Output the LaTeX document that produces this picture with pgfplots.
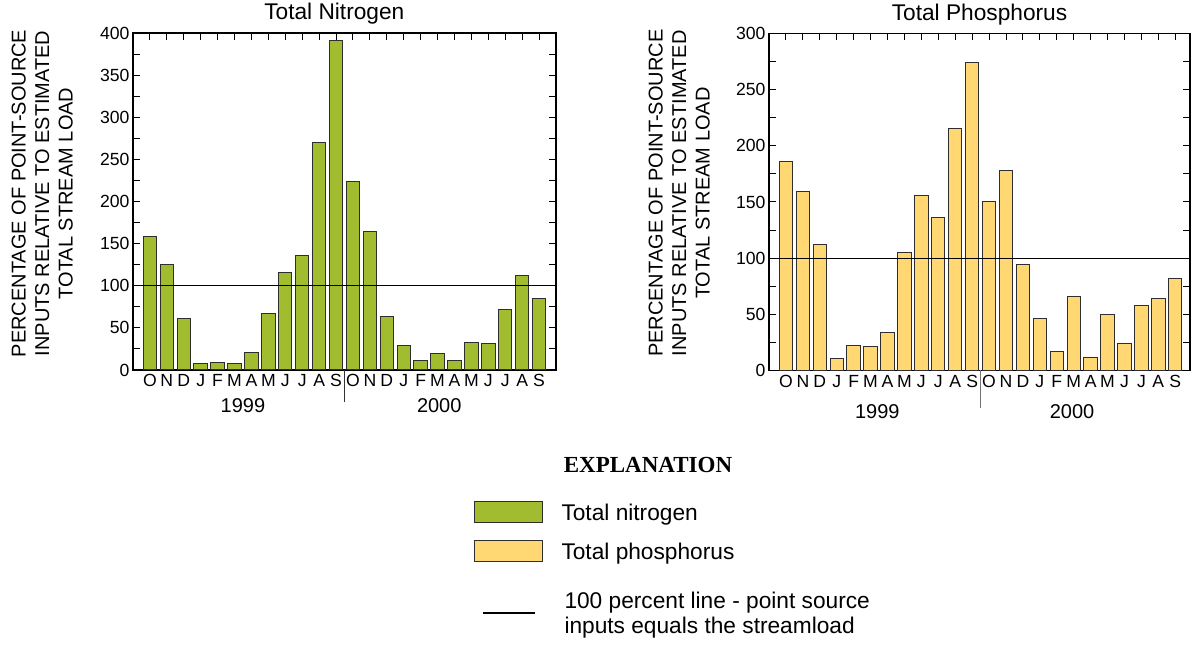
\documentclass[border=0pt]{standalone}
\usepackage{fontspec}
\setmainfont{Liberation Sans}
\newfontfamily\explfont{Liberation Serif}
\usepackage{pgfplots}
\pgfplotsset{compat=1.18}

\definecolor{ngreen}{HTML}{A2BC2F}
\definecolor{pyellow}{HTML}{FFD873}
\definecolor{edge}{HTML}{2E2E2E}

\newcommand\tickfont{\fontsize{17.6}{20}\selectfont}
\newcommand\yearfont{\fontsize{20}{24}\selectfont}
\newcommand\legfont{\fontsize{22.7}{25}\selectfont}

\pgfplotsset{
  monthaxis/.style={
    scale only axis, height=337pt,
    xmin=-1, ymin=0,
    xtick={0,...,23},
    xticklabels={O,N,D,J,F,M,A,M,J,J,A,S,O,N,D,J,F,M,A,M,J,J,A,S},
    xtick pos=right, xticklabel pos=left,
    major tick length=7pt, minor tick length=7pt,
    tick style={line width=1pt, black},
    axis line style={line width=1.2pt},
    tick label style={font=\tickfont},
    xticklabel style={yshift=-1pt},
    /pgf/number format/assume math mode=true,
    ylabel={PERCENTAGE OF POINT-SOURCE\\INPUTS RELATIVE TO ESTIMATED\\TOTAL STREAM LOAD},
    ylabel style={font=\fontsize{20}{23.5}\selectfont, align=center,
      anchor=south, inner sep=0pt},
    title style={font=\fontsize{22.7}{26}\selectfont, anchor=base, inner sep=0pt},
    clip mode=individual,
  },
  legax/.style={
    hide axis, scale only axis, width=1191pt, height=645pt,
    at={(0pt,0pt)}, anchor=south west,
    xmin=0, xmax=1, ymin=0, ymax=1,
    legend cell align=left,
    legend style={draw=none, fill=none, inner sep=0pt, outer sep=0pt,
      anchor=west, font=\legfont, cells={align=left},
      nodes={inner sep=0pt, text depth=0pt}},
  },
}

\begin{document}
\begin{tikzpicture}
\path[use as bounding box] (0pt,0pt) rectangle (1191pt,645pt);

% Total nitrogen
\begin{axis}[monthaxis,
    at={(133pt,275pt)}, anchor=south west,
    width=423pt, xmax=24, ymax=400,
    ytick={0,50,...,400}, minor ytick={25,75,...,375},
    ylabel style={at={(axis description cs:-0.1418,0.524)}},
    title={Total Nitrogen},
    title style={at={(axis description cs:0.476,1.0208)}},
]
\addplot[ybar, bar width=13.4pt, fill=ngreen, draw=edge, line width=1pt]
coordinates {
  (0,158) (1,125) (2,61) (3,8) (4,9) (5,8) (6,21) (7,67) (8,116) (9,136) (10,270) (11,391)
  (12,224) (13,164) (14,63) (15,29) (16,11) (17,19) (18,11) (19,33) (20,31) (21,72) (22,112) (23,85)
};
\addplot[black, line width=1.2pt] coordinates {(-1,100) (24,100)};
\draw[black!80, line width=1pt] (axis cs:11.5,0) -- ++(0pt,-32pt);
\node[font=\yearfont, anchor=base, yshift=-43pt] at (axis cs:5.5,0) {1999};
\node[font=\yearfont, anchor=base, yshift=-43pt] at (axis cs:17.1,0) {2000};
\end{axis}

% Total phosphorus
\begin{axis}[monthaxis,
    at={(769pt,274.5pt)}, anchor=south west,
    width=421pt, xmax=23.87, ymax=300,
    ytick={0,50,...,300}, minor ytick={25,75,...,275},
    ylabel style={at={(axis description cs:-0.1401,0.526)}},
    title={Total Phosphorus},
    title style={at={(axis description cs:0.5,1.0208)}},
]
\addplot[ybar, bar width=13.4pt, fill=pyellow, draw=edge, line width=1pt]
coordinates {
  (0,186) (1,159) (2,112) (3,11) (4,22) (5,21) (6,34) (7,105) (8,156) (9,136) (10,215) (11,274)
  (12,150) (13,178) (14,94) (15,46) (16,17) (17,66) (18,12) (19,50) (20,24) (21,58) (22,64) (23,82)
};
\addplot[black, line width=1.2pt] coordinates {(-1,100) (23.87,100)};
\draw[black!55, line width=1pt] (axis cs:11.5,0) -- ++(0pt,-38pt);
\node[font=\yearfont, anchor=base, yshift=-48pt] at (axis cs:5.4,0) {1999};
\node[font=\yearfont, anchor=base, yshift=-48pt] at (axis cs:16.9,0) {2000};
\end{axis}

% explanation
\node[font=\explfont\bfseries\fontsize{23}{26}\selectfont] at (648pt,180pt) {EXPLANATION};

\begin{axis}[legax,
    legend style={at={(0.39798,0.20620)}, column sep=18.5pt},
    legend image code/.code={\draw[#1] (0pt,-10.5pt) rectangle (68pt,10.5pt);},
]
\addlegendimage{fill=ngreen, draw=edge, line width=1pt}
\addlegendentry{Total nitrogen}
\end{axis}

\begin{axis}[legax,
    legend style={at={(0.39798,0.14574)}, column sep=18.5pt},
    legend image code/.code={\draw[#1] (0pt,-10.5pt) rectangle (68pt,10.5pt);},
]
\addlegendimage{fill=pyellow, draw=edge, line width=1pt}
\addlegendentry{Total phosphorus}
\end{axis}

\begin{axis}[legax,
    legend style={at={(0.40470,0.04961)}, column sep=28pt},
    legend image code/.code={\draw[#1] (0pt,0pt) -- (52pt,0pt);},
]
\addlegendimage{draw=black, line width=2.5pt}
\addlegendentry{100 percent line - point source\\inputs equals the streamload}
\end{axis}
\end{tikzpicture}
\end{document}
